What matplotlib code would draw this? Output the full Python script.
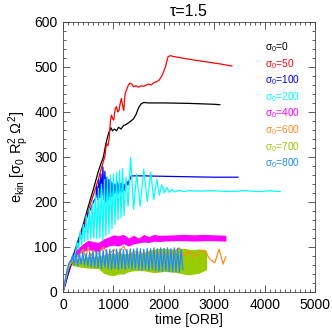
import numpy as np
import matplotlib
matplotlib.use("Agg")
import matplotlib.pyplot as plt
from matplotlib.ticker import MultipleLocator

plt.rcParams['font.family'] = ['Liberation Sans', 'DejaVu Sans']
plt.rcParams['mathtext.fontset'] = 'custom'
plt.rcParams['mathtext.rm'] = 'Liberation Sans'
plt.rcParams['mathtext.it'] = 'Liberation Sans'
plt.rcParams['mathtext.sf'] = 'Liberation Sans'

# ---------------- data ----------------
t_s0 = [0, 100, 200, 300, 400, 500, 600, 700, 750, 800, 850, 900, 950, 980, 1020, 1060,
        1100, 1150, 1200, 1250, 1300, 1350, 1400, 1450, 1500, 1550, 1600, 1700, 2000,
        2500, 3000, 3110]
v_s0 = [0, 45, 80, 115, 150, 190, 228, 268, 285, 300, 330, 352, 365, 358, 362, 358,
        366, 362, 370, 372, 376, 380, 385, 395, 410, 418, 421, 420, 420,
        419, 417, 416]

t_s50 = [0, 100, 200, 300, 400, 500, 600, 700, 760, 800, 830, 860, 890, 913, 940, 960,
         985, 1006, 1030, 1059, 1085, 1111, 1135, 1158, 1180, 1204, 1230, 1258, 1290,
         1323, 1360, 1400, 1450, 1500, 1550, 1600, 1654, 1700, 1750, 1800, 1853, 1900,
         1950, 1985, 2030, 2083, 2130, 2200, 2500, 2800, 3100, 3350]
v_s50 = [0, 40, 75, 110, 145, 180, 215, 250, 275, 290, 302, 330, 325, 340, 380, 393,
         385, 382, 405, 412, 400, 404, 420, 430, 415, 403, 440, 449, 458,
         464, 462, 456, 458, 455, 458, 457, 460, 462, 460, 465, 467, 470,
         478, 486, 500, 523, 525, 523, 517, 512, 507, 502]

t_s100 = [0, 100, 200, 300, 400, 500, 550, 600, 650, 670, 690, 710, 730, 750, 770, 790,
          810, 830, 850, 870, 890, 910, 930, 950, 970, 990, 1010, 1030, 1050, 1070,
          1090, 1110, 1130, 1150, 1170, 1190, 1210, 1230, 1250, 1270, 1290, 1310, 1330,
          1350, 1400, 1600, 2000, 2500, 3000, 3470]
v_s100 = [0, 40, 75, 110, 140, 175, 185, 200, 210, 235, 205, 250, 210, 262, 215, 278,
          205, 268, 200, 255, 205, 250, 210, 245, 212, 242, 218, 240, 220, 245,
          218, 240, 222, 242, 222, 238, 225, 240, 230, 245, 238, 248, 250,
          258, 258, 258, 257, 256, 255, 255]

t_s200 = [0, 50, 100, 150, 200, 250, 280, 310, 340, 370, 400, 430, 460, 490, 520, 550,
          580, 610, 640, 670, 700, 730, 760, 790, 820, 850, 880, 910, 940, 970, 1000,
          1030, 1060, 1090, 1120, 1150, 1180, 1210, 1250, 1290, 1340, 1400, 1460, 1530,
          1600, 1670, 1740, 1800, 1860, 1910, 1960, 2010, 2060, 2110, 2160, 2220, 2300,
          2400, 2500, 2700, 3000, 3300, 3600, 3900, 4100, 4310]
v_s200 = [0, 30, 55, 68, 72, 90, 110, 95, 135, 105, 150, 112, 170, 115, 185, 118,
          200, 120, 215, 118, 230, 120, 240, 115, 250, 125, 255, 130, 260, 140, 262,
          150, 265, 160, 270, 165, 275, 170, 255, 190, 299, 184, 262, 190,
          273, 201, 266, 205, 250, 215, 238, 220, 232, 221, 228, 222, 226,
          223, 225, 224, 225, 223, 225, 223, 225, 223]

t_s400_start = [0, 50, 100, 150]
v_s400_start = [0, 25, 50, 70]
t_s400 = [150, 200, 300, 400, 500, 600, 700, 800, 900, 1000, 1100, 1200, 1300, 1400,
          1500, 1600, 1700, 1800, 1900, 2000, 2200, 2400, 2600, 2800, 3000, 3230]
hi_s400 = [76, 88, 98, 108, 115, 112, 110, 118, 122, 127, 125, 128, 120, 126,
           120, 128, 123, 128, 126, 126, 127, 128, 127, 128, 127, 126]
lo_s400 = [68, 76, 84, 90, 94, 92, 90, 97, 102, 104, 102, 107, 102, 107,
           109, 111, 110, 113, 112, 113, 114, 114, 113, 114, 114, 113]

t_s600 = [0, 50, 100, 150, 200, 300, 400, 450, 500, 550, 600, 700, 800, 900, 1000, 1100,
          1200, 1300, 1400, 1600, 1800, 2000, 2200, 2300, 2400, 2500, 2600, 2700, 2811,
          2911, 3010, 3095, 3175, 3228]
v_s600 = [0, 28, 50, 62, 70, 80, 95, 75, 100, 78, 92, 85, 100, 80, 95, 85,
          102, 80, 90, 85, 90, 82, 88, 98, 80, 90, 78, 88, 93,
          73, 65, 95, 62, 78]

t_s700_start = [0, 50, 100, 150]
v_s700_start = [0, 30, 55, 65]
t_s700 = [150, 300, 500, 700, 800, 900, 1000, 1100, 1200, 1300, 1400, 1500, 1600, 1700,
          1800, 1900, 2000, 2100, 2200, 2300, 2400, 2500, 2600, 2700, 2850]
hi_s700 = [70, 75, 78, 80, 82, 85, 85, 88, 85, 85, 88, 85, 88, 93,
           95, 97, 97, 96, 95, 97, 97, 95, 94, 96, 92]
lo_s700 = [60, 56, 53, 52, 42, 38, 36, 40, 40, 45, 47, 48, 47, 45,
           43, 44, 46, 45, 44, 42, 40, 38, 40, 42, 50]

t_s800_start = [0, 40, 80, 120, 160]
v_s800_start = [0, 25, 50, 65, 70]
v_s800 = [82, 60, 85, 58, 86, 62, 88, 60, 85, 58, 88, 56, 90, 55, 92, 54, 90, 52, 93, 55,
          94, 52, 95, 50, 93, 52, 95, 50, 96, 52, 94, 50, 95, 53, 96, 50, 95, 52, 97, 50,
          96, 48, 95, 50, 97, 48, 96, 50, 98, 47, 96, 46, 98, 45, 97, 47, 98, 45, 96, 44,
          98, 45, 97, 44, 95, 50]
t_s800_range = (190, 2375)

labels = ['0', '50', '100', '200', '400', '600', '700', '800']
colors = ['black', '#FF0000', '#0000FF', '#00FFFF', '#FF00FF', '#FF8C1E', '#99CC00', '#1E8CFF']

# ---------------- figure ----------------
fig = plt.figure(figsize=(3.32, 3.32), dpi=100)
ax = fig.add_axes([0.19, 0.1205, 0.759, 0.8135])
lw = 0.9

ax.plot(t_s0, v_s0, color=colors[0], lw=lw)
ax.plot(t_s50, v_s50, color=colors[1], lw=lw)
ax.plot(t_s100, v_s100, color=colors[2], lw=lw)
ax.plot(t_s200, v_s200, color=colors[3], lw=lw)
ax.plot(t_s400_start, v_s400_start, color=colors[4], lw=lw)
ax.fill_between(t_s400, lo_s400, hi_s400, color=colors[4], lw=0)
ax.plot(t_s600, v_s600, color=colors[5], lw=lw)
ax.plot(t_s700_start, v_s700_start, color=colors[6], lw=lw)
ax.fill_between(t_s700, lo_s700, hi_s700, color=colors[6], lw=0)
t800 = np.linspace(t_s800_range[0], t_s800_range[1], len(v_s800))
ax.plot(t_s800_start + list(t800), v_s800_start + v_s800, color=colors[7], lw=lw)

ax.set_xlim(0, 5000)
ax.set_ylim(0, 600)
ax.xaxis.set_major_locator(MultipleLocator(1000))
ax.xaxis.set_minor_locator(MultipleLocator(100))
ax.yaxis.set_major_locator(MultipleLocator(100))
ax.yaxis.set_minor_locator(MultipleLocator(20))
ax.tick_params(which='both', direction='in', top=True, right=True, labelsize=10,
               color='#444444', width=0.6)
ax.tick_params(which='major', length=5, pad=4)
ax.tick_params(which='minor', length=2.5)
for sp in ax.spines.values():
    sp.set_linewidth(0.6)
    sp.set_color('#444444')

ax.set_title('\u03c4=1.5', fontsize=11.5, pad=4)
ax.set_xlabel('time [ORB]', fontsize=10, labelpad=1)
ax.set_ylabel(r'e$_{\rm kin}$ [$\sigma_0$ R$_{\rm p}^2$ $\Omega^2$]', fontsize=10.5, labelpad=2)

for i, (lab, c) in enumerate(zip(labels, colors)):
    ax.text(0.80, 0.907 - i * 0.0615, r'$\sigma_0$=' + lab, color=c, fontsize=7.3,
            transform=ax.transAxes, ha='left', va='center')

fig.savefig('out.png', dpi=100)
